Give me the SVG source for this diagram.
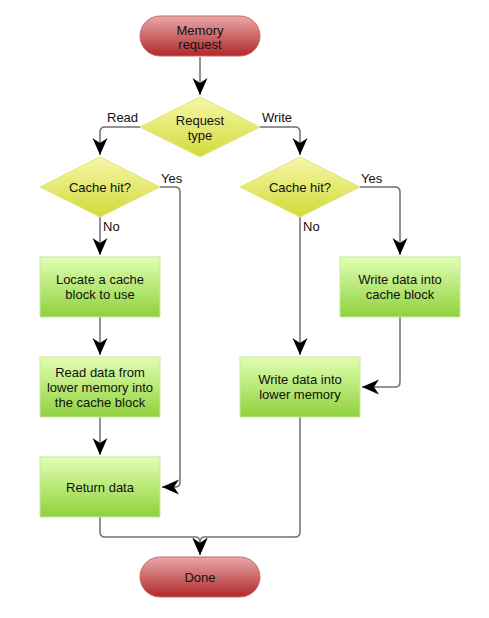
<svg xmlns="http://www.w3.org/2000/svg" width="489" height="618" viewBox="0 0 489 618">
<style>
text{font-family:"Liberation Sans",Arial,sans-serif;font-size:13px;fill:#111;text-anchor:middle}
.lbl{text-anchor:start;font-size:13px}
.term{fill:url(#gr);stroke:#c96b6b;stroke-width:1}
.proc{fill:url(#gg);stroke:#c8e8a0;stroke-width:1}
.dec{fill:url(#gy);stroke:#e4e47a;stroke-width:1}
.con{fill:none;stroke:#707070;stroke-width:1.5}
</style>
<defs>
<linearGradient id="gr" x1="0" y1="0" x2="0" y2="1"><stop offset="0" stop-color="#e9a8a8"/><stop offset="1" stop-color="#b1282a"/></linearGradient>
<linearGradient id="gg" x1="0" y1="0" x2="0" y2="1"><stop offset="0" stop-color="#e2ffb2"/><stop offset="1" stop-color="#8ed13c"/></linearGradient>
<linearGradient id="gy" x1="0" y1="0" x2="0" y2="1"><stop offset="0" stop-color="#f7f7a8"/><stop offset="1" stop-color="#d2da3a"/></linearGradient>
<marker id="ah" markerUnits="userSpaceOnUse" markerWidth="20" markerHeight="20" viewBox="-18 -9 20 18" refX="0" refY="0" orient="auto">
<path d="M0,0 L-17,-7.5 L-12,0 L-17,7.5 Z" fill="#000"/>
</marker>
</defs>
<g id="connectors">
<path class="con" d="M200,57 L200,95" marker-end="url(#ah)"/>
<path class="con" d="M140,127 L105,127 Q100,127 100,132 L100,155" marker-end="url(#ah)"/>
<path class="con" d="M260,127 L295,127 Q300,127 300,132 L300,155" marker-end="url(#ah)"/>
<path class="con" d="M100,217 L100,255" marker-end="url(#ah)"/>
<path class="con" d="M160,187 L175,187 Q180,187 180,192 L180,482 Q180,487 175,487 L162,487" marker-end="url(#ah)"/>
<path class="con" d="M100,317 L100,355" marker-end="url(#ah)"/>
<path class="con" d="M100,417 L100,455" marker-end="url(#ah)"/>
<path class="con" d="M360,187 L395,187 Q400,187 400,192 L400,255" marker-end="url(#ah)"/>
<path class="con" d="M300,217 L300,355" marker-end="url(#ah)"/>
<path class="con" d="M400,317 L400,382 Q400,387 395,387 L362,387" marker-end="url(#ah)"/>
<path class="con" d="M100,517 L100,532 Q100,537 105,537 L195,537 Q200,537 200,542 L200,555" marker-end="url(#ah)"/>
<path class="con" d="M300,417 L300,532 Q300,537 295,537 L205,537 Q200,537 200,542 L200,555" marker-end="url(#ah)"/>
<text class="lbl" x="107" y="122">Read</text>
<text class="lbl" x="262" y="122">Write</text>
<text class="lbl" x="161" y="183">Yes</text>
<text class="lbl" x="103" y="231">No</text>
<text class="lbl" x="361" y="183">Yes</text>
<text class="lbl" x="303" y="231">No</text>
</g>
<g id="memory-request">
<rect class="term" x="140" y="16" width="120" height="40" rx="20"/>
<text x="200" y="35">Memory</text>
<text x="200" y="49">request</text>
</g>
<g id="request-type">
<path class="dec" d="M200,97 L260,127 L200,157 L140,127 Z"/>
<text x="200" y="125">Request</text>
<text x="200" y="140">type</text>
</g>
<g id="cache-hit-read">
<path class="dec" d="M100,157 L160,187 L100,217 L40,187 Z"/>
<text x="100" y="192">Cache hit?</text>
</g>
<g id="cache-hit-write">
<path class="dec" d="M300,157 L360,187 L300,217 L240,187 Z"/>
<text x="300" y="192">Cache hit?</text>
</g>
<g id="locate">
<rect class="proc" x="40" y="257" width="120" height="60"/>
<text x="100" y="284">Locate a cache</text>
<text x="100" y="299">block to use</text>
</g>
<g id="read-data">
<rect class="proc" x="40" y="357" width="120" height="60"/>
<text x="100" y="377">Read data from</text>
<text x="100" y="392">lower memory into</text>
<text x="100" y="407">the cache block</text>
</g>
<g id="return-data">
<rect class="proc" x="40" y="457" width="120" height="60"/>
<text x="100" y="492">Return data</text>
</g>
<g id="write-cache">
<rect class="proc" x="340" y="257" width="120" height="60"/>
<text x="400" y="284">Write data into</text>
<text x="400" y="299">cache block</text>
</g>
<g id="write-lower">
<rect class="proc" x="240" y="357" width="120" height="60"/>
<text x="300" y="384">Write data into</text>
<text x="300" y="399">lower memory</text>
</g>
<g id="done">
<rect class="term" x="140" y="557" width="120" height="40" rx="20"/>
<text x="200" y="582">Done</text>
</g>
</svg>
